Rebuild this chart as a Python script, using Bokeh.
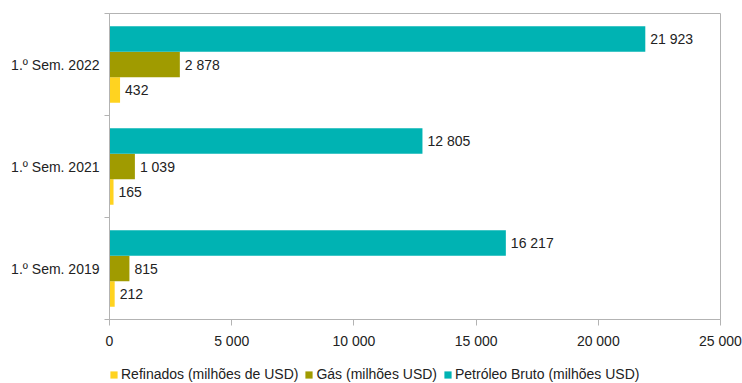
from bokeh.plotting import figure
from bokeh.layouts import column
from bokeh.models import (Range1d, FixedTicker, Legend, LegendItem, ColumnDataSource)
from bokeh.core.properties import value
from bokeh.embed import file_html
from bokeh.resources import INLINE

categories = ["1.º Sem. 2019", "1.º Sem. 2021", "1.º Sem. 2022"]
refinados = [212, 165, 432]
gas = [815, 1039, 2878]
petroleo = [16217, 12805, 21923]
series_names = ["Refinados (milhões de USD)", "Gás (milhões USD)", "Petróleo Bruto (milhões USD)"]
x_ticks = [0, 5000, 10000, 15000, 20000, 25000]

colors = ["#FFD320", "#A09B00", "#00B3B3"]
offsets = [-0.25, 0.0, 0.25]
FONT = "Liberation Sans"
FS = "14px"

def fmt(v):
    return f"{v:,}".replace(",", " ")

p = figure(width=742, height=358, output_backend="svg", toolbar_location=None,
           x_range=Range1d(0, 25000), y_range=Range1d(-0.5, 2.5),
           min_border_left=109, min_border_right=22, min_border_top=13, min_border_bottom=39)
p.background_fill_color = "white"
p.border_fill_color = "white"
p.outline_line_color = "#b3b3b3"
p.xgrid.visible = False
p.ygrid.visible = False

for vals, col, off in zip([refinados, gas, petroleo], colors, offsets):
    ys = [i + off for i in range(len(categories))]
    src = ColumnDataSource(dict(y=ys, x=vals, lab=[fmt(v) for v in vals]))
    p.hbar(y="y", right="x", left=0, height=0.25, color=col, line_color=None, source=src)
    p.text(x="x", y="y", text="lab", source=src, x_offset=5, text_baseline="middle",
           text_align="left", text_font=value(FONT), text_font_size=FS, text_color="#222222")

xa = p.xaxis[0]
xa.ticker = FixedTicker(ticks=x_ticks, minor_ticks=[])
xa.major_label_overrides = {t: fmt(t) for t in x_ticks}
xa.axis_line_color = "#b3b3b3"
xa.major_tick_line_color = "#b3b3b3"
xa.major_tick_in = 0
xa.major_tick_out = 6
xa.major_label_standoff = 7
xa.major_label_text_font = FONT
xa.major_label_text_font_size = FS
xa.major_label_text_color = "#222222"

ya = p.yaxis[0]
ya.ticker = FixedTicker(ticks=[0, 1, 2], minor_ticks=[-0.5, 0.5, 1.5, 2.5])
ya.major_label_overrides = {i: c for i, c in enumerate(categories)}
ya.axis_line_color = "#b3b3b3"
ya.major_tick_line_color = None
ya.major_tick_in = 0
ya.major_tick_out = 0
ya.minor_tick_line_color = "#b3b3b3"
ya.minor_tick_in = 0
ya.minor_tick_out = 5
ya.major_label_standoff = 5
ya.major_label_text_font = FONT
ya.major_label_text_font_size = FS
ya.major_label_text_color = "#222222"

# legend strip
p2 = figure(width=742, height=25, output_backend="svg", toolbar_location=None,
            x_range=Range1d(0, 1), y_range=Range1d(0, 1), x_axis_type=None, y_axis_type=None,
            min_border=0, min_border_left=0, min_border_right=0, min_border_top=0, min_border_bottom=0)
p2.outline_line_color = None
p2.xgrid.visible = False
p2.ygrid.visible = False
leg_renderers = [p2.hbar(y=[-10], right=[-5], left=-6, height=0.1, color=c, line_color=None) for c in colors]
legend = Legend(items=[LegendItem(label=n, renderers=[r]) for n, r in zip(series_names, leg_renderers)],
                orientation="horizontal", location=(0, 1), glyph_width=9, glyph_height=9,
                label_standoff=3, spacing=6, padding=0, margin=0, label_height=14,
                label_text_font=FONT, label_text_font_size=FS, label_text_color="#222222",
                border_line_color=None, background_fill_alpha=0)
p2.add_layout(legend, "center")

layout = column(p, p2, spacing=0)
open("out.html", "w").write(file_html(layout, INLINE))
